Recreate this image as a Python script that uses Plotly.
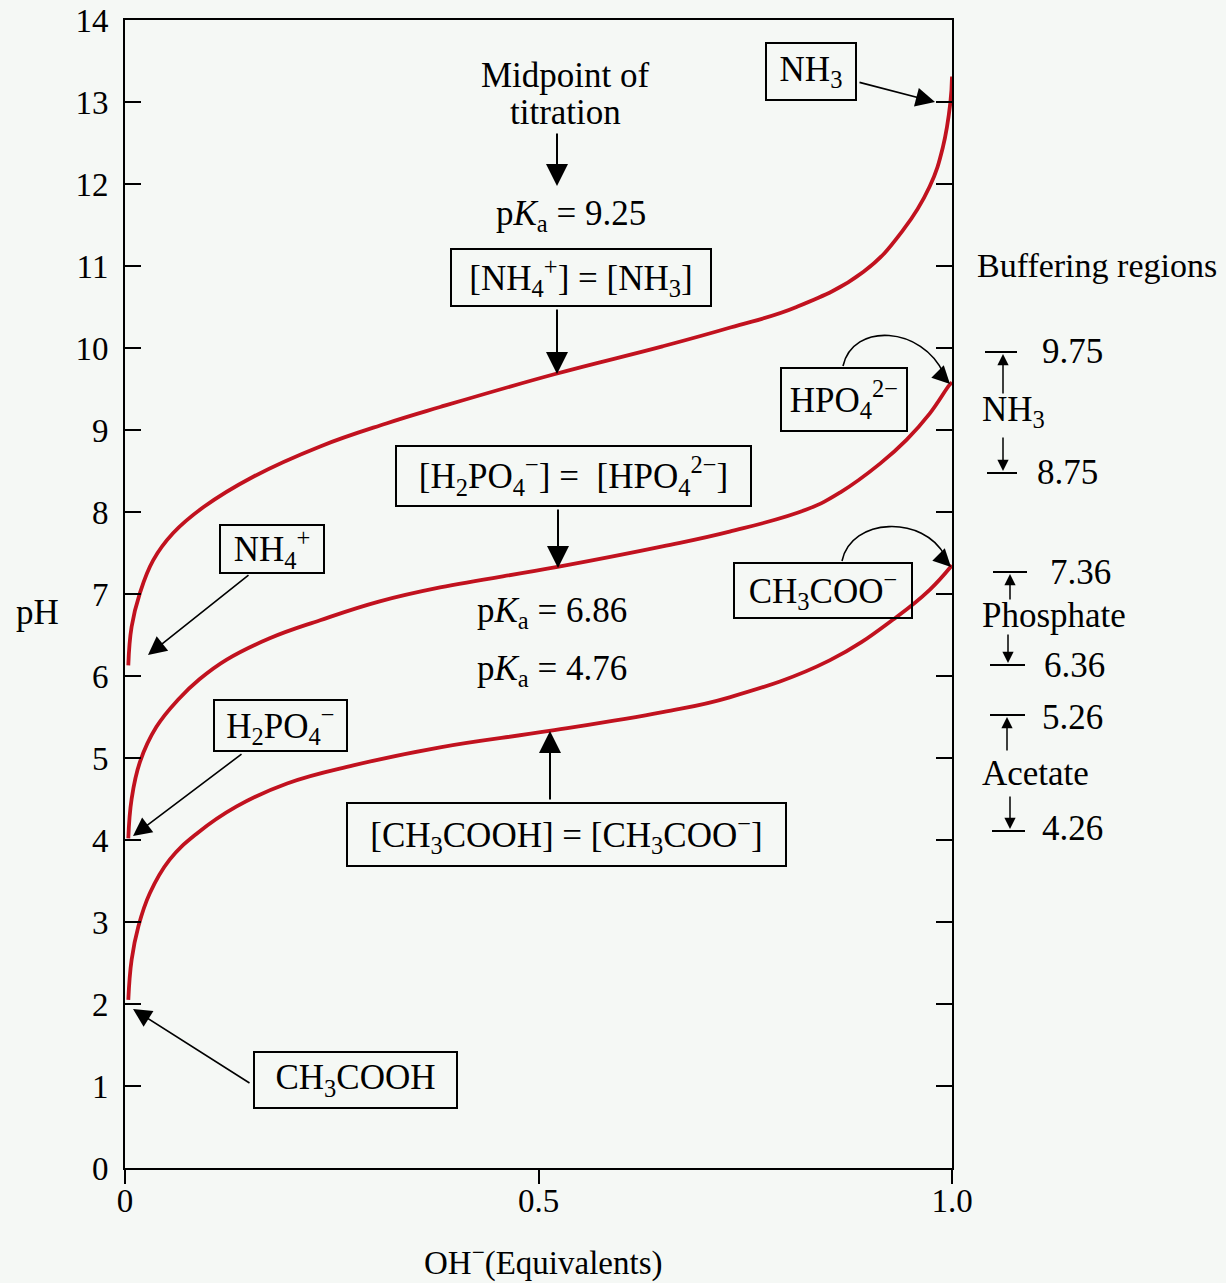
import plotly.graph_objects as go

# ---------------- data ----------------
x_nh3 = [0.004, 0.008, 0.018, 0.034, 0.058, 0.095, 0.155, 0.236, 0.316, 0.381,
         0.519, 0.65, 0.732, 0.812, 0.893, 0.941, 0.973, 0.989, 0.998, 1.0]
ph_nh3 = [6.13, 6.60, 7.01, 7.41, 7.74, 8.06, 8.43, 8.80, 9.08, 9.28,
          9.68, 10.02, 10.25, 10.50, 10.93, 11.44, 11.97, 12.45, 12.99, 13.31]

x_phos = [0.004, 0.008, 0.018, 0.038, 0.065, 0.09, 0.123, 0.175, 0.236, 0.308,
          0.381, 0.523, 0.65, 0.731, 0.824, 0.865, 0.913, 0.945, 0.973, 0.997, 1.0]
ph_phos = [4.02, 4.50, 4.95, 5.38, 5.72, 5.96, 6.20, 6.46, 6.68, 6.91,
           7.08, 7.33, 7.58, 7.76, 8.03, 8.24, 8.59, 8.88, 9.20, 9.55, 9.58]

x_acet = [0.004, 0.008, 0.016, 0.030, 0.054, 0.087, 0.135, 0.196, 0.276, 0.381,
          0.513, 0.65, 0.731, 0.852, 0.933, 0.973, 1.0]
ph_acet = [2.05, 2.54, 2.94, 3.35, 3.76, 4.08, 4.41, 4.69, 4.91, 5.13,
           5.33, 5.56, 5.74, 6.19, 6.72, 7.05, 7.35]

x_tickvals = [0, 0.5, 1.0]
x_ticktext = ["0", "0.5", "1.0"]
y_tickvals = list(range(0, 15))

pka_labels = ["9.25", "6.86", "4.76"]
buffer_names = ["NH<sub>3</sub>", "Phosphate", "Acetate"]
buffer_high = ["9.75", "7.36", "5.26"]
buffer_low = ["8.75", "6.36", "4.26"]

# ---------------- styling / layout helpers ----------------
FONT = "Liberation Serif, Times New Roman, serif"
FS = 35
TFS = 33
RED = "#c1121f"
BG = "#f5f8f5"
W, H = 1226, 1283
L, T = 125, 20
PW, PH = 827, 1148
R, B = W - L - PW, H - T - PH


def X(px):                   # page pixel -> data/paper x
    return (px - L) / PW


def YP(py):                  # page pixel -> paper y
    return (T + PH - py) / PH


fig = go.Figure()
for xs, ys in [(x_nh3, ph_nh3), (x_phos, ph_phos), (x_acet, ph_acet)]:
    fig.add_trace(go.Scatter(x=xs, y=ys, mode="lines",
                             line=dict(color=RED, width=3.8, shape="spline", smoothing=1.2),
                             hoverinfo="skip", showlegend=False))

ann = []
shapes = []


def text(px, py, t, xanchor="center", size=FS):
    ann.append(dict(x=X(px), y=YP(py), xref="paper", yref="paper", text=t, showarrow=False,
                    xanchor=xanchor, yanchor="middle",
                    font=dict(family=FONT, size=size, color="black")))


def box(cx, cy, w, h, t):
    ann.append(dict(x=X(cx), y=YP(cy), xref="paper", yref="paper", text=t, showarrow=False,
                    xanchor="center", yanchor="middle", width=w - 4, height=h - 4,
                    borderwidth=2, bordercolor="black", borderpad=0,
                    bgcolor="rgba(0,0,0,0)",
                    font=dict(family=FONT, size=FS, color="black")))


def arrow(tip, tail, width=2, size=2.2, head=2):
    ann.append(dict(x=X(tip[0]), y=YP(tip[1]), xref="paper", yref="paper", text="",
                    showarrow=True, ax=tail[0] - tip[0], ay=tail[1] - tip[1],
                    axref="pixel", ayref="pixel", arrowhead=head, arrowsize=size,
                    arrowwidth=width, arrowcolor="black", standoff=0, startstandoff=0))


def curve(p0, p1, p2, p3):
    pts = [p0, p1, p2, p3]
    path = "M {},{} C {},{} {},{} {},{}".format(*[v for p in pts for v in (X(p[0]), YP(p[1]))])
    shapes.append(dict(type="path", path=path, xref="paper", yref="paper",
                       line=dict(color="black", width=1.6)))


def bar(x0, x1, py):
    shapes.append(dict(type="line", x0=X(x0), x1=X(x1), y0=YP(py), y1=YP(py),
                       xref="paper", yref="paper", line=dict(color="black", width=2)))


# Midpoint annotation (NH3 / NH4+)
text(565, 75, "Midpoint of")
text(565, 113, "titration")
arrow((557, 186), (557, 132))
text(571, 215, "p<i>K</i><sub>a</sub> = " + pka_labels[0])
box(581, 277, 262, 59, "[NH<sub>4</sub><sup>+</sup>] = [NH<sub>3</sub>]")
arrow((557, 374), (557, 308))

# NH3 end label
box(811, 71, 92, 59, "NH<sub>3</sub>")
arrow((935, 102), (858, 82), width=1.6, size=2.4)

# Phosphate
box(573, 476, 357, 62, "[H<sub>2</sub>PO<sub>4</sub><sup>−</sup>] =  [HPO<sub>4</sub><sup>2−</sup>]")
arrow((558, 568), (558, 508))
text(552, 613, "p<i>K</i><sub>a</sub> = " + pka_labels[1])
text(552, 670, "p<i>K</i><sub>a</sub> = " + pka_labels[2])
box(844, 400, 128, 65, "HPO<sub>4</sub><sup>2−</sup>")
curve((843, 366), (853, 322), (922, 326), (944, 374))
arrow((950, 384), (938, 372), width=1.6, size=2.2)

# Acetate
box(566, 834, 441, 65, "[CH<sub>3</sub>COOH] = [CH<sub>3</sub>COO<sup>−</sup>]")
arrow((550, 731), (550, 801))
box(823, 590, 180, 57, "CH<sub>3</sub>COO<sup>−</sup>")
curve((842, 561), (851, 517), (924, 515), (945, 556))
arrow((951, 567), (939, 555), width=1.6, size=2.2)

# left-side labels
box(272, 549, 106, 50, "NH<sub>4</sub><sup>+</sup>")
arrow((148, 655), (250, 574), width=1.6, size=2.3)
box(280, 726, 135, 53, "H<sub>2</sub>PO<sub>4</sub><sup>−</sup>")
arrow((133, 836), (243, 753), width=1.6, size=2.3)
box(355, 1080, 205, 58, "CH<sub>3</sub>COOH")
arrow((133, 1009), (251, 1084), width=1.6, size=2.3)

# Buffering regions (right side)
text(975, 265, "Buffering regions", xanchor="left", size=34)
# NH3
bar(985, 1017, 352)
bar(987, 1017, 473)
text(1040, 352, buffer_high[0], xanchor="left")
text(1035, 472, buffer_low[0], xanchor="left")
text(980, 412, buffer_names[0], xanchor="left")
arrow((1003, 354), (1003, 395), width=1.5, size=1.5)
arrow((1003, 471), (1003, 436), width=1.5, size=1.5)
# Phosphate
bar(993, 1027, 572)
bar(990, 1025, 665)
text(1048, 572, buffer_high[1], xanchor="left")
text(1042, 665, buffer_low[1], xanchor="left")
text(980, 615, buffer_names[1], xanchor="left")
arrow((1010, 574), (1010, 601), width=1.5, size=1.5)
arrow((1008, 663), (1008, 633), width=1.5, size=1.5)
# Acetate
bar(990, 1025, 715)
bar(992, 1025, 831)
text(1040, 717, buffer_high[2], xanchor="left")
text(1040, 829, buffer_low[2], xanchor="left")
text(980, 773, buffer_names[2], xanchor="left")
arrow((1007, 717), (1007, 752), width=1.5, size=1.5)
arrow((1010, 829), (1010, 795), width=1.5, size=1.5)

# axis titles
text(37, 612, "pH")
text(543, 1260, "OH<sup>−</sup>(Equivalents)", size=33)

axis_common = dict(showline=True, linewidth=2, linecolor="black", showgrid=False,
                   zeroline=False, tickwidth=2, tickcolor="black", automargin=False,
                   ticklabeloverflow="allow",
                   tickfont=dict(family=FONT, size=TFS, color="black"))

fig.update_layout(
    width=W, height=H,
    margin=dict(l=L, r=R, t=T, b=B, pad=0),
    paper_bgcolor=BG, plot_bgcolor=BG,
    xaxis=dict(range=[0, 1], tickvals=x_tickvals, ticktext=x_ticktext,
               ticks="outside", ticklen=14, mirror=True, ticklabelstandoff=-12,
               **axis_common),
    yaxis=dict(range=[0, 14], tickvals=y_tickvals, ticks="inside", ticklen=16,
               mirror="ticks", ticklabelstandoff=8, **axis_common),
    annotations=ann, shapes=shapes,
)

fig.write_html("out.html",
               config={"displayModeBar": False},
               post_script="document.body.style.margin='0';"
                           "document.body.style.background='" + BG + "';")
